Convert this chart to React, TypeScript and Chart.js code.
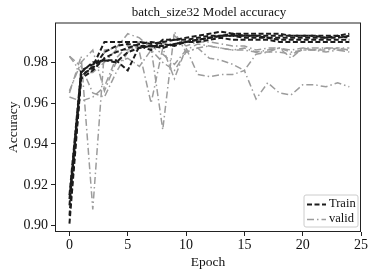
import React, { useEffect, useRef } from "react";
import { Chart, registerables } from "chart.js";

Chart.register(...registerables);

const epochs = [0,1,2,3,4,5,6,7,8,9,10,11,12,13,14,15,16,17,18,19,20,21,22,23,24];

const train1 = [0.913,0.975,0.980,0.981,0.981,0.976,0.988,0.988,0.987,0.989,0.990,0.991,0.992,0.993,0.993,0.992,0.992,0.992,0.991,0.991,0.991,0.991,0.991,0.991,0.991];
const train2 = [0.905,0.973,0.978,0.990,0.990,0.990,0.990,0.989,0.990,0.991,0.992,0.993,0.994,0.995,0.994,0.994,0.994,0.994,0.994,0.993,0.993,0.993,0.993,0.993,0.994];
const train3 = [0.910,0.974,0.977,0.985,0.988,0.989,0.988,0.986,0.991,0.991,0.991,0.992,0.993,0.993,0.993,0.993,0.993,0.993,0.993,0.993,0.993,0.993,0.992,0.992,0.993];
const train4 = [0.915,0.976,0.979,0.981,0.980,0.985,0.987,0.988,0.988,0.989,0.990,0.990,0.991,0.992,0.991,0.991,0.991,0.991,0.990,0.990,0.990,0.990,0.990,0.990,0.990];
const train5 = [0.901,0.972,0.976,0.982,0.985,0.987,0.989,0.990,0.989,0.988,0.990,0.991,0.992,0.993,0.994,0.993,0.993,0.992,0.992,0.992,0.992,0.992,0.992,0.993,0.992];

const valid1 = [0.965,0.983,0.908,0.986,0.987,0.994,0.992,0.987,0.989,0.993,0.988,0.990,0.990,0.989,0.988,0.988,0.986,0.987,0.987,0.986,0.987,0.987,0.987,0.987,0.986];
const valid2 = [0.983,0.978,0.965,0.963,0.975,0.985,0.988,0.987,0.947,0.995,0.985,0.987,0.988,0.987,0.986,0.987,0.985,0.986,0.987,0.985,0.986,0.986,0.987,0.986,0.985];
const valid3 = [0.963,0.961,0.963,0.968,0.982,0.988,0.985,0.960,0.987,0.972,0.987,0.974,0.973,0.974,0.974,0.976,0.962,0.970,0.965,0.964,0.969,0.969,0.968,0.970,0.968];
const valid4 = [0.966,0.980,0.986,0.966,0.980,0.982,0.978,0.986,0.980,0.976,0.985,0.987,0.982,0.981,0.979,0.976,0.984,0.985,0.987,0.982,0.987,0.986,0.986,0.987,0.987];
const valid5 = [0.983,0.975,0.975,0.980,0.986,0.986,0.990,0.988,0.984,0.979,0.986,0.989,0.988,0.987,0.986,0.986,0.985,0.985,0.985,0.984,0.986,0.986,0.985,0.986,0.986];

const trainSeries = [train1, train2, train3, train4, train5];
const validSeries = [valid1, valid2, valid3, valid4, valid5];

const yTicks = [0.90, 0.92, 0.94, 0.96, 0.98];
const xTicks = [0, 5, 10, 15, 20, 25];
const legendLabels = ["Train", "valid"];
const chartTitle = "batch_size32 Model accuracy";

const TRAIN_COLOR = "#1c1c1c";
const VALID_COLOR = "#9c9c9c";
const TRAIN_DASH = [5, 2.5];
const VALID_DASH = [7, 3, 1.5, 3];
const FONT = "'Liberation Serif', 'DejaVu Serif', serif";

const frameAndLegend = {
  id: "frameAndLegend",
  afterDraw(chart: any) {
    const { ctx, chartArea } = chart;
    const { left, top, right, bottom } = chartArea;
    ctx.save();
    ctx.strokeStyle = "#222";
    ctx.lineWidth = 1;
    ctx.setLineDash([]);
    ctx.strokeRect(left + 0.5, top + 0.5, right - left - 1, bottom - top - 1);

    // title centred over the plot area
    ctx.fillStyle = "#111";
    ctx.font = "13px " + FONT;
    ctx.textAlign = "center";
    ctx.textBaseline = "middle";
    ctx.fillText(chartTitle, (left + right) / 2 + 1, 13);

    // legend box (lower right)
    const bw = 54, bh = 32;
    const bx = right - 3 - bw;
    const by = bottom - 5 - bh;
    ctx.fillStyle = "rgba(255,255,255,0.85)";
    ctx.strokeStyle = "#cccccc";
    ctx.lineWidth = 1;
    ctx.beginPath();
    const r = 2;
    ctx.moveTo(bx + r, by);
    ctx.lineTo(bx + bw - r, by);
    ctx.quadraticCurveTo(bx + bw, by, bx + bw, by + r);
    ctx.lineTo(bx + bw, by + bh - r);
    ctx.quadraticCurveTo(bx + bw, by + bh, bx + bw - r, by + bh);
    ctx.lineTo(bx + r, by + bh);
    ctx.quadraticCurveTo(bx, by + bh, bx, by + bh - r);
    ctx.lineTo(bx, by + r);
    ctx.quadraticCurveTo(bx, by, bx + r, by);
    ctx.closePath();
    ctx.fill();
    ctx.stroke();

    const items = [
      { label: legendLabels[0], color: TRAIN_COLOR, dash: TRAIN_DASH, w: 2 },
      { label: legendLabels[1], color: VALID_COLOR, dash: VALID_DASH, w: 1.5 },
    ];
    items.forEach((it, i) => {
      const y = by + 9 + i * 15;
      ctx.strokeStyle = it.color;
      ctx.lineWidth = it.w;
      ctx.setLineDash(it.dash);
      ctx.beginPath();
      ctx.moveTo(bx + 3, y + 0.5);
      ctx.lineTo(bx + 22, y + 0.5);
      ctx.stroke();
      ctx.setLineDash([]);
      ctx.fillStyle = "#111";
      ctx.font = "12.5px " + FONT;
      ctx.textBaseline = "middle";
      ctx.textAlign = "left";
      ctx.fillText(it.label, bx + 25, y);
    });
    ctx.restore();
  },
};

export default function App() {
  const ref = useRef<HTMLCanvasElement | null>(null);
  useEffect(() => {
    if (!ref.current) return;
    const datasets: any[] = [];
    trainSeries.forEach((s, i) => {
      datasets.push({
        label: "Train " + (i + 1),
        data: s.map((v, k) => ({ x: epochs[k], y: v })),
        borderColor: TRAIN_COLOR,
        borderWidth: 2,
        borderDash: TRAIN_DASH,
        pointRadius: 0,
        tension: 0,
        fill: false,
      });
    });
    validSeries.forEach((s, i) => {
      datasets.push({
        label: "valid " + (i + 1),
        data: s.map((v, k) => ({ x: epochs[k], y: v })),
        borderColor: VALID_COLOR,
        borderWidth: 1.5,
        borderDash: VALID_DASH,
        pointRadius: 0,
        tension: 0,
        fill: false,
      });
    });
    const chart = new Chart(ref.current, {
      type: "line",
      data: { datasets },
      plugins: [frameAndLegend],
      options: {
        responsive: false,
        animation: false,
        layout: { padding: { top: 22.5, right: 12, bottom: 0, left: 0 } },
        plugins: {
          legend: { display: false },
          tooltip: { enabled: false },
          title: { display: false },
        },
        scales: {
          x: {
            type: "linear",
            min: -1.24,
            max: 25,
            afterBuildTicks: (scale: any) => {
              scale.ticks = xTicks.map((v) => ({ value: v }));
            },
            afterFit: (scale: any) => {
              scale.height = 41;
            },
            ticks: {
              color: "#111",
              font: { family: FONT, size: 14 },
              padding: 1,
              maxRotation: 0,
              callback: (v: any) => String(v),
            },
            grid: {
              display: true,
              drawOnChartArea: false,
              drawTicks: true,
              tickLength: 4,
              color: "#222",
            },
            border: { display: false },
            title: {
              display: true,
              text: "Epoch",
              color: "#111",
              font: { family: FONT, size: 13.5 },
              padding: { top: 0, bottom: 2 },
            },
          },
          y: {
            type: "linear",
            min: 0.8969,
            max: 0.9995,
            afterBuildTicks: (scale: any) => {
              scale.ticks = yTicks.map((v) => ({ value: v }));
            },
            afterFit: (scale: any) => {
              scale.width = 55;
            },
            ticks: {
              color: "#111",
              font: { family: FONT, size: 14 },
              padding: 3,
              callback: (v: any) => Number(v).toFixed(2),
            },
            grid: {
              display: true,
              drawOnChartArea: false,
              drawTicks: true,
              tickLength: 4,
              color: "#222",
            },
            border: { display: false },
            title: {
              display: true,
              text: "Accuracy",
              color: "#111",
              font: { family: FONT, size: 13.5 },
              padding: { top: 5, bottom: 0 },
            },
          },
        },
      },
    });
    return () => chart.destroy();
  }, []);
  return (
    <div style={{ position: "absolute", left: 0, top: 0, width: 373, height: 273, background: "#fff" }}>
      <canvas ref={ref} width={373} height={273} />
    </div>
  );
}
